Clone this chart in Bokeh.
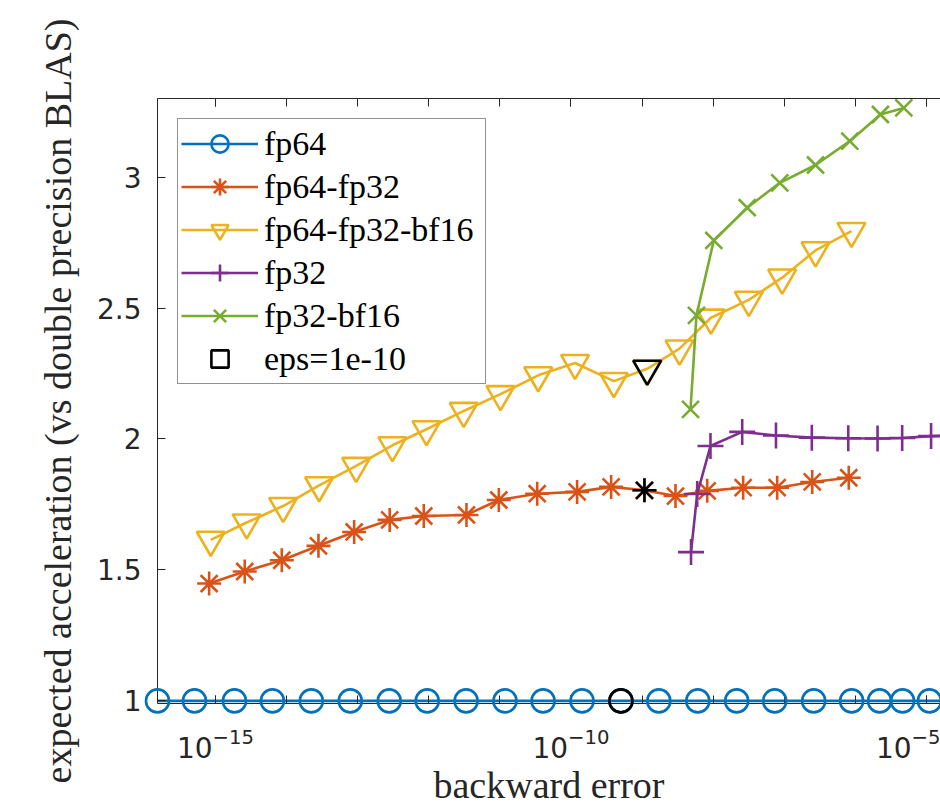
from bokeh.plotting import figure
from bokeh.models import (Range1d, LogAxis, FixedTicker, Legend, LegendItem,
                          LogTickFormatter, CustomJSTickFormatter)
from bokeh.embed import file_html
from bokeh.resources import INLINE

# ---------------- data ----------------
fp64_err = [1.53e-16, 5.07e-16, 1.85e-15, 6.32e-15, 2.23e-14, 7.87e-14, 2.78e-13,
            9.51e-13, 3.35e-12, 1.18e-11, 4.05e-11, 1.43e-10, 5.04e-10, 1.72e-9,
            6.08e-9, 2.14e-8, 7.33e-8, 2.59e-7, 8.85e-7, 2.19e-6, 4.60e-6, 1.10e-5, 2.5e-5]
fp64_acc = [1.0] * len(fp64_err)

fp64_fp32_err = [8.15e-16, 2.58e-15, 8.57e-15, 2.81e-14, 8.93e-14, 2.82e-13, 8.51e-13,
                 3.39e-12, 9.66e-12, 3.35e-11, 1.22e-10, 3.67e-10, 1.08e-9, 2.95e-9,
                 8.24e-9, 2.64e-8, 7.94e-8, 2.47e-7, 8.07e-7]
fp64_fp32_acc = [1.448, 1.494, 1.537, 1.592, 1.645, 1.691, 1.706, 1.710, 1.767, 1.791,
                 1.798, 1.817, 1.804, 1.782, 1.802, 1.814, 1.814, 1.836, 1.852]

fp64_fp32_bf16_err = [8.59e-16, 2.75e-15, 8.95e-15, 2.87e-14, 9.53e-14, 3.08e-13, 9.29e-13,
                      3.10e-12, 1.02e-11, 3.46e-11, 1.14e-10, 4.00e-10, 1.18e-9, 3.36e-9,
                      9.31e-9, 3.17e-8, 9.33e-8, 2.75e-7, 8.81e-7]
fp64_fp32_bf16_acc = [1.615, 1.681, 1.744, 1.823, 1.897, 1.976, 2.037, 2.107, 2.171, 2.243,
                      2.290, 2.221, 2.268, 2.345, 2.463, 2.531, 2.616, 2.720, 2.794]

fp32_err = [4.88e-9, 5.96e-9, 9.16e-9, 2.56e-8, 7.64e-8, 2.44e-7, 7.94e-7, 2.05e-6,
            4.55e-6, 1.16e-5, 3.2e-5]
fp32_acc = [1.568, 1.790, 1.973, 2.027, 2.013, 2.005, 2.003, 2.002, 2.004, 2.011, 2.015]

fp32_bf16_err = [4.80e-9, 5.82e-9, 1.02e-8, 3.01e-8, 8.65e-8, 2.75e-7, 8.34e-7, 2.25e-6, 4.80e-6]
fp32_bf16_acc = [2.113, 2.472, 2.758, 2.883, 2.978, 3.046, 3.137, 3.239, 3.264]

# points reached with eps = 1e-10
eps_fp64 = ([5.04e-10], [1.0])
eps_fp64_fp32 = ([1.08e-9], [1.804])
eps_fp64_fp32_bf16 = ([1.18e-9], [2.268])

series_names = ["fp64", "fp64-fp32", "fp64-fp32-bf16", "fp32", "fp32-bf16", "eps=1e-10"]

x_major = [1e-15, 1e-10, 1e-5]
x_minor = [10.0 ** k for k in range(-16, -3)]
y_ticks = [1, 1.5, 2, 2.5, 3]
y_tick_labels = ["1", "1.5", "2", "2.5", "3"]

# ---------------- styles ----------------
AX = "#262626"
C_BLUE, C_ORANGE, C_YELLOW, C_PURPLE, C_GREEN = "#0072BD", "#D95319", "#EDB120", "#7E2F8E", "#77AC30"
SERIF = "Liberation Serif"
SANS = "DejaVu Sans"
LW = 2.6

p = figure(width=940, height=809, x_axis_type="log", output_backend="svg",
           toolbar_location=None,
           x_range=Range1d(10 ** -15.815, 10 ** -4.803), y_range=Range1d(0.99, 3.3),
           min_border_left=157, min_border_right=0, min_border_top=98, min_border_bottom=106)
p.grid.visible = False
p.outline_line_color = None

xt = FixedTicker(ticks=x_major, minor_ticks=x_minor)
xa = p.xaxis[0]
xa.ticker = xt
xa.formatter = LogTickFormatter()
xa.axis_label = "backward error"

ya = p.yaxis[0]
ya.ticker = FixedTicker(ticks=y_ticks, minor_ticks=[])
ya.major_label_overrides = {t: s for t, s in zip(y_ticks, y_tick_labels)}
ya.axis_label = "expected acceleration (vs double precision BLAS)"

top = LogAxis(ticker=xt, formatter=CustomJSTickFormatter(code="return ''"))
p.add_layout(top, "above")

for ax in (xa, ya, top):
    ax.axis_line_color = AX
    ax.axis_line_width = 1
    ax.major_tick_line_color = AX
    ax.minor_tick_line_color = AX
    ax.major_tick_in = 8
    ax.major_tick_out = 0
    ax.minor_tick_in = 8
    ax.minor_tick_out = 0
    ax.major_label_text_font = SANS
    ax.major_label_text_font_size = "28px"
    ax.major_label_text_color = AX
    ax.axis_label_text_font = SERIF
    ax.axis_label_text_font_style = "normal"
    ax.axis_label_text_color = AX

xa.major_label_standoff = 24
xa.axis_label_text_font_size = "38px"
xa.axis_label_standoff = 3
ya.major_label_standoff = 16
ya.axis_label_text_font_size = "38px"
ya.axis_label_standoff = 15
top.major_label_standoff = 0


def series(xs, ys, color, marker, size, name, level="glyph"):
    ln = p.line(xs, ys, line_color=color, line_width=LW)
    sc = p.scatter(xs, ys, marker=marker, size=size, line_color=color,
                   fill_color=None, line_width=LW, level=level)
    return LegendItem(label=name, renderers=[ln, sc])


items = [
    series(fp64_err, fp64_acc, C_BLUE, "circle", 23, series_names[0], level="overlay"),
    series(fp64_fp32_err, fp64_fp32_acc, C_ORANGE, "asterisk", 24, series_names[1]),
    series(fp64_fp32_bf16_err, fp64_fp32_bf16_acc, C_YELLOW, "inverted_triangle", 28, series_names[2]),
    series(fp32_err, fp32_acc, C_PURPLE, "cross", 26, series_names[3]),
    series(fp32_bf16_err, fp32_bf16_acc, C_GREEN, "x", 24, series_names[4]),
]

p.scatter(eps_fp64[0], eps_fp64[1], marker="circle", size=23, line_color="black",
          fill_color=None, line_width=LW, level="overlay")
p.scatter(eps_fp64_fp32[0], eps_fp64_fp32[1], marker="asterisk", size=24, line_color="black",
          fill_color=None, line_width=LW)
p.scatter(eps_fp64_fp32_bf16[0], eps_fp64_fp32_bf16[1], marker="inverted_triangle", size=28,
          line_color="black", fill_color=None, line_width=LW)
# legend-only proxy for the eps entry (zero size in the plot)
eps_leg = p.scatter(eps_fp64[0], eps_fp64[1], marker="square", size=0, line_color="black",
                    fill_color=None, line_width=LW)
items.append(LegendItem(label=series_names[5], renderers=[eps_leg]))

legend = Legend(items=items, location="top_left", margin=20, padding=3, spacing=0,
                glyph_width=77, glyph_height=43, label_height=43, label_standoff=6,
                label_width=218,
                label_text_font=SERIF, label_text_font_size="34px",
                label_text_color="black",
                border_line_color=AX, border_line_width=1,
                background_fill_color="white", background_fill_alpha=1)
p.add_layout(legend)

open("out.html", "w").write(file_html(p, INLINE))
